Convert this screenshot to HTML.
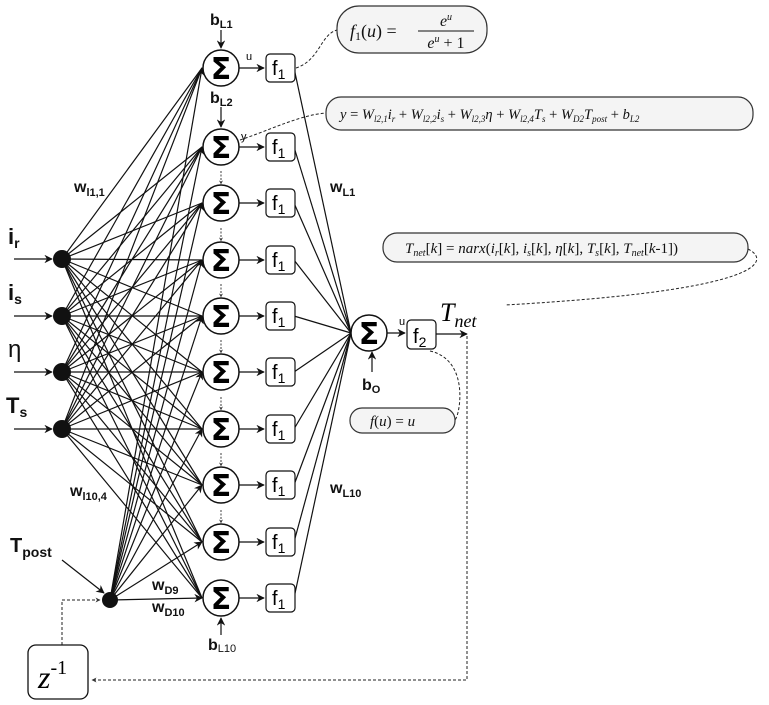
<!DOCTYPE html>
<html><head><meta charset="utf-8"><style>
html,body{margin:0;padding:0;background:#fff;}
svg{display:block;font-family:"Liberation Sans",sans-serif;}
.m{font-family:"Liberation Serif",serif;font-style:italic;}
</style></head><body>
<svg id="s" width="769" height="705" viewBox="0 0 769 705" xmlns="http://www.w3.org/2000/svg">
<defs>
<marker id="a" viewBox="0 0 10 10" refX="9" refY="5" markerWidth="7" markerHeight="7" orient="auto"><path d="M0,0 L10,5 L0,10 L3,5 z" fill="#111"/></marker>
<marker id="sa" viewBox="0 0 10 10" refX="9" refY="5" markerWidth="5" markerHeight="5" orient="auto"><path d="M0,0 L10,5 L0,10 L3,5 z" fill="#333"/></marker>
</defs>
<g id="lines" stroke="#111" stroke-width="1.2" fill="none"></g>
<g id="nodes"></g>

<g stroke="#111" stroke-width="1.2">
<line x1="14" y1="259" x2="52" y2="259" marker-end="url(#a)"/>
<line x1="14" y1="316" x2="52" y2="316" marker-end="url(#a)"/>
<line x1="14" y1="372" x2="52" y2="372" marker-end="url(#a)"/>
<line x1="14" y1="429" x2="52" y2="429" marker-end="url(#a)"/>
<line x1="62" y1="560" x2="104" y2="593" marker-end="url(#a)"/>
</g>
<g fill="#111" font-weight="bold">
<text x="8" y="244" font-size="22">i<tspan font-size="14" dy="4">r</tspan></text>
<text x="8" y="300" font-size="22">i<tspan font-size="14" dy="4">s</tspan></text>
<text x="8" y="357" font-size="24" font-weight="normal">η</text>
<text x="6" y="413" font-size="22">T<tspan font-size="14" dy="4">s</tspan></text>
<text x="10" y="552" font-size="20">T<tspan font-size="14" dy="5">post</tspan></text>
<text x="74" y="192" font-size="16">w<tspan font-size="11" dy="4">l1,1</tspan></text>
<text x="70" y="496" font-size="16">w<tspan font-size="11" dy="4">l10,4</tspan></text>
<text x="152" y="590" font-size="16">w<tspan font-size="11" dy="4">D9</tspan></text>
<text x="152" y="612" font-size="16">w<tspan font-size="11" dy="4">D10</tspan></text>
<text x="330" y="192" font-size="16">w<tspan font-size="11" dy="4">L1</tspan></text>
<text x="330" y="493" font-size="16">w<tspan font-size="11" dy="4">L10</tspan></text>
<text x="210" y="25" font-size="16">b<tspan font-size="11" dy="3">L1</tspan></text>
<text x="210" y="103" font-size="16">b<tspan font-size="11" dy="3">L2</tspan></text>
<text x="208" y="650" font-size="16">b<tspan font-size="11" dy="2" font-weight="normal">L10</tspan></text>
<text x="362" y="390" font-size="16">b<tspan font-size="11" dy="3">O</tspan></text>
</g>
<text x="246" y="60" font-size="11">u</text>
<text x="241" y="140" font-size="11">y</text>
<text x="399" y="325" font-size="11">u</text>

<g stroke="#111" stroke-width="1.2" fill="none">
<line x1="387" y1="333" x2="405" y2="333" marker-end="url(#a)"/>
<line x1="436" y1="334" x2="467" y2="334" marker-end="url(#a)"/>
<line x1="372" y1="372" x2="372" y2="352" marker-end="url(#a)"/>
<line x1="221" y1="30" x2="221" y2="48" marker-end="url(#a)"/>
<line x1="221" y1="107" x2="221" y2="127" marker-end="url(#a)"/>
<line x1="221" y1="635" x2="221" y2="618" marker-end="url(#a)"/>
</g>
<circle cx="369" cy="333" r="18" fill="#fff" stroke="#111" stroke-width="1.5"/>
<text x="369" y="344" font-size="30" text-anchor="middle" font-family="DejaVu Sans" font-weight="bold">Σ</text>
<rect x="407" y="320" width="29" height="29" rx="4" fill="#fff" stroke="#111" stroke-width="1.2"/>
<text x="413" y="343" font-size="20">f<tspan font-size="14" dy="4">2</tspan></text>
<text x="440" y="321" font-size="26" class="m">T<tspan font-size="18" dy="6">net</tspan></text>

<g stroke="#222" stroke-width="1" fill="none" stroke-dasharray="3,2">
<path d="M467,336 L467,680 L92,680" marker-end="url(#sa)"/>
<path d="M62,645 L62,600 L100,600" marker-end="url(#sa)"/>
<path d="M296,68 C320,60 320,35 337,30"/>
<path d="M240,140 C270,130 300,115 326,113"/>
<path d="M748,249 C770,260 770,290 505,305"/>
<path d="M430,351 C470,360 460,415 455,420"/>
</g>
<rect x="28" y="645" width="60" height="54" rx="8" fill="#fff" stroke="#111" stroke-width="1.3"/>
<text x="38" y="688" font-size="32" class="m">z<tspan font-size="20" dy="-14" font-style="normal">-1</tspan></text>

<g fill="#f4f4f4" stroke="#333" stroke-width="1.2">
<rect x="337" y="6" width="150" height="47" rx="22"/>
<rect x="326" y="97" width="427" height="33" rx="15"/>
<rect x="383" y="233" width="365" height="29" rx="14"/>
<rect x="350" y="408" width="105" height="25" rx="12"/>
</g>
<g class="m" fill="#111">
<text x="350" y="37" font-size="18">f<tspan font-size="12" dy="3" font-style="normal">1</tspan><tspan dy="-3" font-style="normal">(</tspan>u<tspan font-style="normal">) =</tspan></text>
<text x="446" y="26" font-size="16" text-anchor="middle">e<tspan font-size="10" dy="-6">u</tspan></text>
<line x1="418" y1="31" x2="474" y2="31" stroke="#111" stroke-width="1"/>
<text x="446" y="48" font-size="16" text-anchor="middle">e<tspan font-size="10" dy="-6">u</tspan><tspan dy="6" font-style="normal"> + 1</tspan></text>
<text x="340" y="119" font-size="14.5">y <tspan font-style="normal">=</tspan> W<tspan font-size="9" dy="3">l2,1</tspan><tspan dy="-3">i</tspan><tspan font-size="9" dy="3">r</tspan><tspan dy="-3" font-style="normal"> + </tspan>W<tspan font-size="9" dy="3">l2,2</tspan><tspan dy="-3">i</tspan><tspan font-size="9" dy="3">s</tspan><tspan dy="-3" font-style="normal"> + </tspan>W<tspan font-size="9" dy="3">l2,3</tspan><tspan dy="-3">η</tspan><tspan font-style="normal"> + </tspan>W<tspan font-size="9" dy="3">l2,4</tspan><tspan dy="-3">T</tspan><tspan font-size="9" dy="3">s</tspan><tspan dy="-3" font-style="normal"> + </tspan>W<tspan font-size="9" dy="3">D2</tspan><tspan dy="-3">T</tspan><tspan font-size="9" dy="3">post</tspan><tspan dy="-3" font-style="normal"> + </tspan>b<tspan font-size="9" dy="3">L2</tspan></text>
<text x="405" y="253" font-size="15">T<tspan font-size="10" dy="3">net</tspan><tspan dy="-3" font-style="normal">[</tspan>k<tspan font-style="normal">] = </tspan>narx<tspan font-style="normal">(</tspan>i<tspan font-size="10" dy="3">r</tspan><tspan dy="-3" font-style="normal">[</tspan>k<tspan font-style="normal">], </tspan>i<tspan font-size="10" dy="3">s</tspan><tspan dy="-3" font-style="normal">[</tspan>k<tspan font-style="normal">], </tspan>η<tspan font-style="normal">[</tspan>k<tspan font-style="normal">], </tspan>T<tspan font-size="10" dy="3">s</tspan><tspan dy="-3" font-style="normal">[</tspan>k<tspan font-style="normal">], </tspan>T<tspan font-size="10" dy="3">net</tspan><tspan dy="-3" font-style="normal">[</tspan>k<tspan font-style="normal">-1])</tspan></text>
<text x="370" y="426" font-size="15">f<tspan font-style="normal">(</tspan>u<tspan font-style="normal">) = </tspan>u</text>
</g>
<script>
var NS="http://www.w3.org/2000/svg";
var L=document.getElementById("lines"),N=document.getElementById("nodes");
function el(p,t,a){var e=document.createElementNS(NS,t);for(var k in a)e.setAttribute(k,a[k]);p.appendChild(e);return e;}
var hy=[68,147,203,260,316,372,429,485,542,598];
var iy=[259,316,372,429];
hy.forEach(function(y,j){
 iy.forEach(function(v){el(L,"line",{x1:62,y1:v,x2:202,y2:y});});
 el(L,"line",{x1:110,y1:600,x2:202,y2:y,"marker-end":"url(#a)"});
 el(L,"line",{x1:239,y1:y,x2:264,y2:y,"marker-end":"url(#a)"});
 el(L,"line",{x1:294,y1:y,x2:351,y2:333});
 if(j>=2&&j<=8){el(L,"line",{x1:221,y1:y-32,x2:221,y2:y-19,"stroke-dasharray":"2,1.5","stroke-width":"0.8","marker-end":"url(#sa)"});}
 el(N,"circle",{cx:221,cy:y,r:18,fill:"#fff",stroke:"#111","stroke-width":1.5});
 var t=el(N,"text",{x:221,y:y+11,"font-size":30,"text-anchor":"middle","font-family":"DejaVu Sans","font-weight":"bold"});t.textContent="Σ";
 el(N,"rect",{x:266,y:y-14,width:29,height:28,rx:4,fill:"#fff",stroke:"#111","stroke-width":1.2});
 var f=el(N,"text",{x:272,y:y+7,"font-size":20});
 f.appendChild(document.createTextNode("f"));
 var s=el(f,"tspan",{"font-size":14,dy:4});s.textContent="1";
});
iy.forEach(function(v){el(N,"circle",{cx:62,cy:v,r:9,fill:"#111"});});
el(N,"circle",{cx:110,cy:600,r:8,fill:"#111"});
</script>
</svg>
</body></html>
